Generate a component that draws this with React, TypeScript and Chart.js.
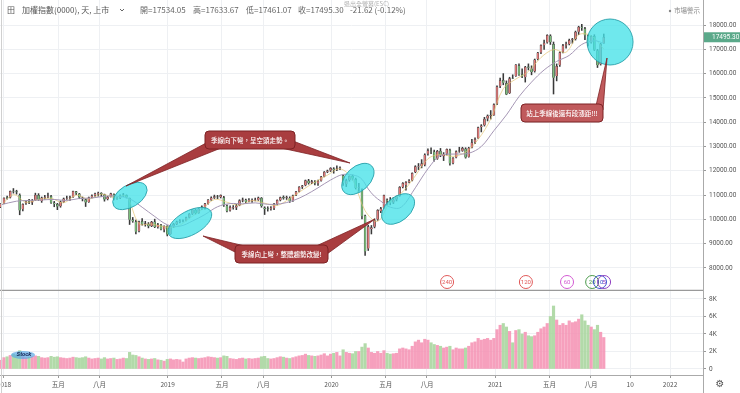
import React, { useEffect, useRef } from 'react';
import { Chart, registerables } from 'chart.js';

Chart.register(...registerables);

// Weekly bars; x value = weeks counted from 2018-01-01 (first bar is the week of 2017-12-25)
const FIRST_WEEK = -1;

const weekOpen = [
  10510, 10660, 10890, 10900, 11170, 11140, 11000, 10420, 10660, 10730, 10700, 10800, 10990, 10760,
  10900, 10940, 10950, 10680, 10620, 10540, 10730, 10860, 10870, 10920, 11140, 11050, 10890,
  10820, 10720, 10910, 10990, 11060, 11070, 11020, 10840, 10940, 11030, 10850, 10880, 10990,
  10990, 10870, 9980, 9900, 9520, 9920, 9790, 9810, 9730, 9900, 9690, 9770, 9580,
  9720, 9400, 9720, 9810, 9890, 9930, 9950, 10080, 10230, 10380, 10270, 10440, 10480,
  10650, 10810, 10900, 10930, 10920, 10900, 10560, 10370, 10480, 10490, 10580, 10780, 10810,
  10780, 10770, 10790, 10810, 10880, 10480, 10440, 10440, 10460, 10630, 10790, 10910, 10880,
  10880, 10770, 11000, 11150, 11340, 11400, 11590, 11510, 11550, 11480, 11590, 11770, 11960,
  12010, 12080, 12050, 12100, 11800, 11450, 11620, 11780, 11650, 11300, 11200, 10150, 8800,
  9600, 9700, 10000, 10350, 10470, 10800, 10780, 10700, 10820, 10960, 11330, 11420, 11550,
  11600, 11950, 12180, 12200, 12250, 12700, 12820, 12780, 12500, 12810, 12600, 12700, 12850,
  12320, 12550, 12800, 12830, 12900, 12580, 12960, 13180, 13350, 13800, 13870, 14150, 14250,
  14300, 14760, 15480, 15720, 15600, 15200, 15820, 15900, 16330, 15960, 15850, 16280, 16200,
  16100, 16600, 16870, 17170, 17280, 17550, 17200, 15900, 16350, 16900, 17160, 17220, 17380,
  17420, 17720, 17920, 17850, 17560, 17280, 17530, 16950, 16380, 17250,
];
const weekHigh = [
  10650, 10890, 10960, 11170, 11270, 11200, 11050, 10640, 10760, 10830, 10820, 11080, 11060, 10920,
  10990, 11080, 10990, 10740, 10660, 10760, 10880, 10960, 10960, 11170, 11160, 11070, 10920,
  10840, 10920, 11010, 11080, 11120, 11100, 11040, 10950, 11080, 11050, 10930, 11010, 11070,
  11010, 10880, 10080, 9970, 9930, 10030, 9920, 9870, 9920, 10010, 9840, 9800, 9740,
  9740, 9740, 9840, 9930, 9990, 9980, 10100, 10240, 10400, 10420, 10450, 10560, 10660,
  10820, 10930, 11000, 10990, 11010, 10950, 10600, 10560, 10570, 10620, 10810, 10880, 10840,
  10860, 10850, 10880, 10920, 10900, 10520, 10520, 10530, 10660, 10800, 10920, 10970, 10960,
  10930, 11000, 11150, 11350, 11400, 11620, 11650, 11610, 11600, 11620, 11770, 11970, 12030,
  12130, 12130, 12200, 12160, 11820, 11660, 11800, 11830, 11700, 11480, 11260, 10180, 9760,
  9750, 10020, 10400, 10500, 11000, 10850, 10900, 10900, 10960, 11350, 11520, 11560, 11640,
  11920, 12210, 12300, 12460, 12700, 12900, 12950, 12850, 12840, 12920, 12750, 12900, 12890,
  12540, 12820, 12970, 12970, 12950, 12970, 13300, 13360, 13800, 13900, 14200, 14300, 14480,
  14760, 15500, 15820, 16000, 15700, 15850, 15950, 16370, 16400, 16200, 16300, 16400, 16320,
  16600, 16880, 17180, 17380, 17600, 17600, 17300, 16400, 16900, 17200, 17300, 17420, 17450,
  17750, 17950, 18030, 17900, 17600, 17560, 17600, 17000, 17250, 17630,
];
const weekLow = [
  10480, 10650, 10830, 10880, 11080, 11040, 10190, 10350, 10620, 10650, 10610, 10780, 10780, 10700,
  10830, 10880, 10660, 10520, 10400, 10500, 10700, 10820, 10780, 10900, 11020, 10850, 10760,
  10530, 10700, 10880, 10950, 10960, 10940, 10750, 10800, 10920, 10800, 10820, 10850, 10930,
  10880, 9790, 9880, 9400, 9480, 9760, 9720, 9650, 9700, 9660, 9640, 9570, 9480,
  9320, 9380, 9660, 9780, 9850, 9900, 9940, 10060, 10200, 10220, 10250, 10400, 10420,
  10630, 10780, 10860, 10850, 10880, 10530, 10310, 10340, 10420, 10400, 10560, 10720, 10680,
  10720, 10700, 10760, 10780, 10500, 10200, 10340, 10380, 10400, 10600, 10760, 10830, 10820,
  10700, 10740, 10980, 11130, 11270, 11380, 11450, 11470, 11420, 11400, 11570, 11750, 11920,
  11970, 11900, 12000, 12050, 11400, 11350, 11570, 11620, 11250, 11150, 10020, 8520, 8720,
  9400, 9650, 9960, 10280, 10450, 10600, 10600, 10650, 10760, 10950, 11300, 11200, 11500,
  11580, 11920, 12050, 12120, 12200, 12640, 12700, 12400, 12470, 12580, 12420, 12650, 12230,
  12280, 12530, 12760, 12800, 12520, 12560, 12940, 13120, 13330, 13600, 13840, 14050, 14130,
  14280, 14720, 15420, 15540, 15130, 15180, 15790, 15880, 15920, 15830, 15650, 16150, 15950,
  16060, 16560, 16820, 17000, 17250, 17200, 15160, 15700, 16300, 16850, 17050, 17180, 17250,
  17380, 17600, 17780, 17400, 17130, 17250, 16950, 16250, 16350, 17240,
];
const weekClose = [
  10643, 10879, 10882, 11158, 11150, 11126, 10370, 10620, 10710, 10720, 10750, 11000, 10810, 10890,
  10920, 10960, 10690, 10630, 10530, 10720, 10850, 10880, 10900, 11150, 11080, 10900, 10840,
  10700, 10900, 10970, 11050, 11080, 11050, 10820, 10920, 11060, 10850, 10860, 10970, 11010,
  10920, 9990, 9920, 9490, 9900, 9800, 9830, 9720, 9890, 9690, 9780, 9590, 9727,
  9380, 9710, 9800, 9900, 9930, 9932, 10070, 10220, 10390, 10260, 10430, 10520, 10640,
  10800, 10890, 10940, 10910, 10990, 10580, 10350, 10500, 10500, 10560, 10770, 10800, 10730,
  10780, 10780, 10800, 10890, 10550, 10430, 10430, 10470, 10620, 10780, 10900, 10870, 10900,
  10760, 10980, 11130, 11330, 11380, 11600, 11500, 11560, 11490, 11580, 11750, 11950, 12000,
  12100, 12030, 12090, 12118, 11495, 11600, 11770, 11680, 11290, 11320, 10130, 8680, 9700,
  9660, 9950, 10370, 10450, 10990, 10770, 10690, 10810, 10940, 11320, 11480, 11530, 11580,
  11900, 12170, 12190, 12300, 12660, 12830, 12800, 12460, 12800, 12640, 12680, 12880, 12300,
  12520, 12790, 12820, 12920, 12550, 12930, 13160, 13300, 13780, 13850, 14130, 14260, 14280,
  14730, 15460, 15710, 15620, 15140, 15800, 15800, 16360, 15950, 15880, 16270, 16250, 16070,
  16570, 16850, 17160, 17260, 17570, 17290, 15830, 16300, 16870, 17150, 17210, 17370, 17400,
  17710, 17910, 17890, 17570, 17250, 17520, 16980, 16340, 17210, 17495.3,
];
// volume, 億
const weekVolume = [
  1000, 1300, 1400, 1550, 1700, 1600, 2100, 1400, 1300, 1350, 1400, 1500, 1450, 1300,
  1250, 1300, 1450, 1350, 1400, 1300, 1250, 1200, 1250, 1350, 1300, 1250, 1300,
  1400, 1250, 1150, 1200, 1250, 1150, 1300, 1150, 1200, 1250, 1100, 1150, 1250,
  1200, 1900, 1600, 1550, 1400, 1250, 1150, 1100, 1150, 1200, 1050, 1000, 900,
  1100, 1150, 1050, 1100, 1050, 800, 1150, 1250, 1300, 1250, 1200, 1250, 1300,
  1400, 1350, 1300, 1250, 1300, 1500, 1450, 1200, 1150, 1100, 1200, 1250, 1150,
  1200, 1150, 1200, 1250, 1400, 1450, 1200, 1150, 1200, 1300, 1400, 1350, 1250,
  1200, 1300, 1400, 1500, 1550, 1700, 1550, 1500, 1450, 1500, 1600, 1750, 1500,
  1700, 1800, 1900, 1500, 2200, 1900, 1800, 1750, 2000, 2000, 2500, 2900, 2400,
  1900, 1800, 2000, 1800, 2100, 1800, 1700, 1750, 1800, 2300, 2400, 2300, 2200,
  2600, 3100, 3300, 3000, 3400, 3300, 3000, 2800, 2700, 2600, 2400, 2500, 2600,
  2200, 2400, 2300, 2300, 2400, 2600, 3000, 3100, 3500, 3300, 3400, 3500, 3300,
  3500, 4500, 5000, 5200, 4800, 4300, 3000, 4400, 4500, 4000, 4200, 3800, 3700,
  3800, 4200, 4600, 4800, 5200, 6000, 7200, 5600, 5000, 5200, 5000, 5500, 5300,
  5400, 5700, 6200, 5500, 5000, 4800, 4500, 5000, 4200, 3600,
];

// 60-day moving average (季線), read at sparse weeks
const ma60Weeks = [-1, 4, 8, 12, 16, 20, 24, 28, 32, 36, 40, 44, 48, 52, 56, 60, 64, 68, 72, 76, 80, 84, 88, 92, 96, 100, 104, 108, 112, 114, 116, 118, 120, 122, 124, 126, 128, 130, 132, 134, 136, 138, 140, 144, 148, 152, 156, 160, 164, 168, 172, 176, 180, 184, 188, 191];
const ma60Values = [10600, 10750, 10780, 10800, 10820, 10780, 10860, 10880, 10950, 10960, 10850, 10500, 10120, 9780, 9720, 9930, 10200, 10520, 10650, 10640, 10680, 10620, 10640, 10770, 11000, 11300, 11620, 11850, 11800, 11650, 11250, 10950, 10750, 10560, 10470, 10470, 10700, 11100, 11500, 11900, 12250, 12550, 12670, 12690, 12720, 13000, 13650, 14300, 15050, 15650, 16150, 16500, 16750, 17200, 17350, 17250];

// 20-day moving average (月線), read at sparse weeks
const ma20Weeks = [-1, 3, 7, 11, 15, 19, 23, 27, 31, 35, 39, 43, 47, 51, 55, 59, 63, 67, 71, 75, 79, 83, 87, 91, 95, 99, 103, 107, 111, 115, 119, 123, 127, 131, 135, 139, 143, 147, 151, 155, 159, 163, 167, 171, 175, 179, 183, 187, 191];
const ma20Values = [10550, 11017, 10707, 10820, 10865, 10682, 11002, 10835, 11037, 10912, 10940, 9825, 9810, 9697, 9697, 10038, 10400, 10817, 10707, 10582, 10772, 10667, 10575, 10857, 11205, 11537, 11820, 12084, 11636, 10355, 9920, 10725, 11137, 11795, 12495, 12675, 12595, 12770, 13292, 14130, 15380, 15775, 16087, 16662, 16987, 16882, 17597, 17557, 17006];

// time axis
const timeTickWeeks = [0, 17.3, 30.4, 52.1, 69.4, 82.6, 104.3, 121.6, 134.7, 156.4, 173.7, 186.9, 199.4, 212.1];
const timeTickLabels = ['2018', '五月', '八月', '2019', '五月', '八月', '2020', '五月', '八月', '2021', '五月', '八月', '10', '2022'];
const priceTicks = [8000, 9000, 10000, 11000, 12000, 13000, 14000, 15000, 16000, 17000, 18000];
const volumeTicks = [0, 2000, 4000, 6000, 8000];

// MA period markers
const maMarkerLabels = ['240', '120', '60', '20', '10', '5'];
const maMarkerWeeks = [141.1, 166.2, 179.3, 187.3, 189.8, 191.1];
const maMarkerColors = ['#e05858', '#e05858', '#d25ad2', '#4a9a4a', '#3a4fd0', '#9040c0'];

// header (last daily bar)
const symbolTitle = '加權指數(0000), 天, 上市';
const lastOpen = 17534.05;
const lastHigh = 17633.67;
const lastLow = 17461.07;
const lastClose = 17495.3;
const lastChange = -21.62;
const lastChangePct = -0.12;

const X_MIN = -1.27;
const X_MAX = 222.6;
const AXIS_W = 37;

const CJK = '"Noto Sans CJK TC", "Noto Sans", sans-serif';
const NUM = 'Roboto, "Noto Sans", sans-serif';

function isUp(i: number) {
  return weekClose[i] >= weekOpen[i];
}

function rr(ctx: CanvasRenderingContext2D, x: number, y: number, w: number, h: number, r: number) {
  ctx.beginPath();
  ctx.moveTo(x + r, y);
  ctx.lineTo(x + w - r, y);
  ctx.quadraticCurveTo(x + w, y, x + w, y + r);
  ctx.lineTo(x + w, y + h - r);
  ctx.quadraticCurveTo(x + w, y + h, x + w - r, y + h);
  ctx.lineTo(x + r, y + h);
  ctx.quadraticCurveTo(x, y + h, x, y + h - r);
  ctx.lineTo(x, y + r);
  ctx.quadraticCurveTo(x, y, x + r, y);
  ctx.closePath();
}

const ellipses = [
  { w: 40.1, p: 10963, rx: 19, ry: 11, rot: -0.55 },
  { w: 59.2, p: 9852, rx: 24, ry: 12, rot: -0.5 },
  { w: 112.7, p: 11663, rx: 19, ry: 12, rot: -0.75 },
  { w: 125.5, p: 10428, rx: 19, ry: 12, rot: -0.7 },
  { w: 193.0, p: 17300, rx: 23, ry: 23, rot: 0 },
];

const callouts = [
  {
    box: [205, 131, 90, 18], text: '季線向下彎，呈空頭走勢。', fill: '#a93d3f',
    wedges: [[[208, 142], [221, 148], [126, 186]], [[281, 148], [293, 141], [350, 163]]],
  },
  {
    box: [235, 245, 93, 18], text: '季線向上彎，整體趨勢改變!', fill: '#a93d3f',
    wedges: [[[237, 253], [249, 247], [203, 236]], [[314, 247], [327, 254], [375, 219]]],
  },
  {
    box: [521, 104, 82, 18], text: '站上季線後還有段漲距!!!', fill: '#c05a5c',
    wedges: [[[595, 110], [603, 110], [607, 58]]],
  },
];

const priceOverlay = {
  id: 'priceOverlay',
  afterDatasetsDraw(chart: any) {
    const ctx: CanvasRenderingContext2D = chart.ctx;
    const xs = chart.scales.x;
    const ys = chart.scales.y;
    ctx.save();
    ellipses.forEach((e) => {
      const cx = xs.getPixelForValue(e.w);
      const cy = ys.getPixelForValue(e.p);
      ctx.beginPath();
      ctx.ellipse(cx, cy, e.rx, e.ry, e.rot, 0, Math.PI * 2);
      ctx.fillStyle = 'rgba(70, 226, 232, 0.78)';
      ctx.fill();
      ctx.lineWidth = 1;
      ctx.strokeStyle = 'rgba(40, 160, 170, 0.9)';
      ctx.stroke();
    });
    callouts.forEach((c) => {
      c.wedges.forEach((wg) => {
        ctx.beginPath();
        ctx.moveTo(wg[0][0], wg[0][1]);
        ctx.lineTo(wg[2][0], wg[2][1]);
        ctx.lineTo(wg[1][0], wg[1][1]);
        ctx.closePath();
        ctx.fillStyle = c.fill;
        ctx.fill();
        ctx.strokeStyle = '#7d2224';
        ctx.lineWidth = 0.8;
        ctx.stroke();
      });
      const [bx, by, bw, bh] = c.box;
      rr(ctx, bx, by, bw, bh, 4);
      ctx.fillStyle = c.fill;
      ctx.fill();
      ctx.strokeStyle = '#7d2224';
      ctx.lineWidth = 1;
      ctx.stroke();
      ctx.fillStyle = '#ffffff';
      ctx.font = `500 6.5px ${CJK}`;
      ctx.textAlign = 'center';
      ctx.textBaseline = 'middle';
      ctx.fillText(c.text, bx + bw / 2, by + bh / 2 + 0.5);
    });
    maMarkerLabels.forEach((lab, i) => {
      const cx = xs.getPixelForValue(maMarkerWeeks[i]);
      const cy = 282;
      ctx.beginPath();
      ctx.arc(cx, cy, 6.5, 0, Math.PI * 2);
      ctx.strokeStyle = maMarkerColors[i];
      ctx.lineWidth = 1;
      ctx.stroke();
      ctx.fillStyle = maMarkerColors[i];
      ctx.font = `6px ${NUM}`;
      ctx.textAlign = 'center';
      ctx.textBaseline = 'middle';
      ctx.fillText(lab, cx, cy + 0.5);
    });
    ctx.restore();
  },
  afterDraw(chart: any) {
    const ctx: CanvasRenderingContext2D = chart.ctx;
    const ys = chart.scales.y;
    const area = chart.chartArea;
    ctx.save();
    ctx.textBaseline = 'middle';
    ctx.textAlign = 'left';
    ctx.fillStyle = '#555';
    ctx.font = `8px ${CJK}`;
    ctx.fillText('田', 7, 10);
    ctx.fillText(symbolTitle, 22, 10);
    ctx.strokeStyle = '#555';
    ctx.lineWidth = 0.9;
    ctx.beginPath();
    ctx.moveTo(120, 9);
    ctx.lineTo(122, 11);
    ctx.lineTo(124, 9);
    ctx.stroke();
    const seg = [
      ['開=' + lastOpen.toFixed(2), 140],
      ['高=' + lastHigh.toFixed(2), 193],
      ['低=' + lastLow.toFixed(2), 246],
      ['收=' + lastClose.toFixed(2), 298],
      [lastChange.toFixed(2) + ' (' + lastChangePct.toFixed(2) + '%)', 350],
    ];
    ctx.fillStyle = '#666';
    seg.forEach(([t, x]) => ctx.fillText(String(t), Number(x), 10));
    ctx.fillStyle = 'rgba(150,150,150,0.75)';
    ctx.font = `6px ${CJK}`;
    ctx.fillText('退出全螢幕(ESC)', 344, 4);
    ctx.fillStyle = '#888';
    ctx.beginPath();
    ctx.arc(670, 11, 1.2, 0, Math.PI * 2);
    ctx.fill();
    ctx.font = `6.5px ${CJK}`;
    ctx.fillText('市場警示', 674, 11);
    const py = ys.getPixelForValue(lastClose);
    ctx.fillStyle = '#5ba98a';
    ctx.fillRect(area.right + 1, py - 5, AXIS_W - 1, 10);
    ctx.fillStyle = '#fff';
    ctx.font = `6.5px ${NUM}`;
    ctx.textAlign = 'left';
    ctx.fillText(lastClose.toFixed(2), area.right + 9, py + 0.5);
    ctx.strokeStyle = '#9a9a9a';
    ctx.lineWidth = 1.2;
    ctx.beginPath();
    ctx.moveTo(0, chart.height - 0.6);
    ctx.lineTo(area.right, chart.height - 0.6);
    ctx.stroke();
    ctx.strokeStyle = '#d0d0d0';
    ctx.lineWidth = 1;
    ctx.beginPath();
    ctx.moveTo(1.5, 0);
    ctx.lineTo(1.5, chart.height);
    ctx.stroke();
    ctx.restore();
  },
};

const volOverlay = {
  id: 'volOverlay',
  afterDraw(chart: any) {
    const ctx: CanvasRenderingContext2D = chart.ctx;
    const area = chart.chartArea;
    ctx.save();
    ctx.strokeStyle = '#aaa';
    ctx.lineWidth = 1;
    ctx.beginPath();
    ctx.moveTo(area.right + 0.5, area.bottom);
    ctx.lineTo(area.right + 0.5, chart.height);
    ctx.stroke();
    ctx.strokeStyle = '#d0d0d0';
    ctx.beginPath();
    ctx.moveTo(1.5, 0);
    ctx.lineTo(1.5, chart.height);
    ctx.stroke();
    ctx.fillStyle = '#555';
    ctx.font = '10px "DejaVu Sans"';
    ctx.textAlign = 'center';
    ctx.textBaseline = 'middle';
    ctx.fillText('⚙', 720, area.bottom + 9);
    ctx.beginPath();
    ctx.ellipse(23, 64, 12, 4, 0, 0, Math.PI * 2);
    ctx.fillStyle = 'rgba(90,170,230,0.7)';
    ctx.fill();
    ctx.fillStyle = '#1b2a5a';
    ctx.font = `italic bold 6px ${NUM}`;
    ctx.fillText('Stock', 24, 63);
    ctx.restore();
  },
};

const gridColor = '#eef0f3';

function zeroPadH(s: any) {
  s.paddingLeft = 0;
  s.paddingRight = 0;
}
function zeroPadV(s: any) {
  s.paddingTop = 0;
  s.paddingBottom = 0;
}

export default function App() {
  const priceRef = useRef<HTMLCanvasElement>(null);
  const volRef = useRef<HTMLCanvasElement>(null);

  useEffect(() => {
    document.body.style.margin = '0';
    const weeks = weekClose.map((_, i) => FIRST_WEEK + i);
    const wickData = weeks.map((w, i) => ({ x: w, y: [weekLow[i], weekHigh[i]] }));
    const bodyData = weeks.map((w, i) => {
      const lo = Math.min(weekOpen[i], weekClose[i]);
      const hi = Math.max(weekOpen[i], weekClose[i]);
      return { x: w, y: hi - lo < 16 ? [lo - 8, hi + 8] : [lo, hi] };
    });
    const bodyColors = weeks.map((_, i) => (isUp(i) ? '#e07a7a' : '#7cbf7c'));
    const maData = ma60Weeks.map((w, i) => ({ x: w, y: ma60Values[i] }));
    const ma20Data = ma20Weeks.map((w, i) => ({ x: w, y: ma20Values[i] }));

    const xAxisCommon = {
      type: 'linear' as const,
      min: X_MIN,
      max: X_MAX,
      offset: false,
      afterBuildTicks: (s: any) => {
        s.ticks = timeTickWeeks.map((v) => ({ value: v }));
      },
    };

    const pc = new Chart(priceRef.current!, {
      type: 'bar',
      data: {
        datasets: [
          {
            type: 'line',
            data: maData as any,
            borderColor: '#a596b4',
            borderWidth: 1,
            pointRadius: 0,
            tension: 0.35,
            order: 0,
          } as any,
          {
            type: 'line',
            data: ma20Data as any,
            borderColor: 'rgba(226, 196, 110, 0.75)',
            borderWidth: 0.9,
            pointRadius: 0,
            tension: 0.35,
            order: 0.5,
          } as any,
          {
            data: bodyData as any,
            backgroundColor: bodyColors,
            borderColor: '#3a3a3a',
            borderWidth: 0.5,
            barThickness: 2,
            grouped: false,
            order: 1,
          },
          {
            data: wickData as any,
            backgroundColor: '#3a3a3a',
            barThickness: 0.9,
            grouped: false,
            order: 2,
          },
        ],
      },
      options: {
        responsive: false,
        devicePixelRatio: 1,
        animation: false,
        events: [],
        layout: { padding: 0 },
        plugins: { legend: { display: false }, tooltip: { enabled: false } },
        scales: {
          x: {
            ...xAxisCommon,
            ticks: { display: false },
            grid: { color: gridColor, drawTicks: false, offset: false },
            border: { display: false },
            afterFit: (s: any) => { s.height = 0; zeroPadH(s); },
          },
          y: {
            type: 'linear',
            position: 'right',
            min: 7053,
            max: 19029,
            afterBuildTicks: (s: any) => { s.ticks = priceTicks.map((v) => ({ value: v })); },
            ticks: {
              callback: (v: any) => Number(v).toFixed(2),
              font: { size: 6.5, family: NUM },
              color: '#555',
              padding: 3,
            },
            grid: { color: gridColor, tickColor: '#999', tickLength: 3 },
            border: { color: '#aaa' },
            afterFit: (s: any) => { s.width = AXIS_W; zeroPadV(s); },
          },
        },
      } as any,
      plugins: [priceOverlay],
    });

    const volData = weeks.map((w, i) => ({ x: w, y: weekVolume[i] }));
    const volColors = weeks.map((_, i) => (isUp(i) ? 'rgba(244,143,177,0.85)' : 'rgba(170,214,160,0.9)'));

    const vc = new Chart(volRef.current!, {
      type: 'bar',
      data: {
        datasets: [
          {
            data: volData as any,
            backgroundColor: volColors,
            barThickness: 2.5,
            grouped: false,
          },
        ],
      },
      options: {
        responsive: false,
        devicePixelRatio: 1,
        animation: false,
        events: [],
        layout: { padding: 0 },
        plugins: { legend: { display: false }, tooltip: { enabled: false } },
        scales: {
          x: {
            ...xAxisCommon,
            ticks: {
              autoSkip: false,
              maxRotation: 0,
              callback: (_v: any, idx: number) => timeTickLabels[idx],
              font: { size: 6.5, family: CJK },
              color: '#555',
              padding: 3,
            },
            grid: { color: gridColor, tickColor: '#999', tickLength: 3, offset: false },
            border: { color: '#aaa' },
            afterFit: (s: any) => { s.height = 18; zeroPadH(s); },
          },
          y: {
            type: 'linear',
            position: 'right',
            min: -686,
            max: 8914,
            afterBuildTicks: (s: any) => { s.ticks = volumeTicks.map((v) => ({ value: v })); },
            ticks: {
              callback: (v: any) => (Number(v) === 0 ? '0' : Number(v) / 1000 + 'K'),
              font: { size: 6.5, family: NUM },
              color: '#555',
              padding: 3,
            },
            grid: { color: gridColor, tickColor: '#999', tickLength: 3 },
            border: { color: '#aaa' },
            afterFit: (s: any) => { s.width = AXIS_W; zeroPadV(s); },
          },
        },
      } as any,
      plugins: [volOverlay],
    });

    return () => {
      pc.destroy();
      vc.destroy();
    };
  }, []);

  return (
    <div style={{ position: 'fixed', left: 0, top: 0, width: 740, height: 393, background: '#fff', overflow: 'hidden' }}>
      <canvas ref={priceRef} width={740} height={291} style={{ position: 'absolute', left: 0, top: 0, width: 740, height: 291 }} />
      <canvas ref={volRef} width={740} height={102} style={{ position: 'absolute', left: 0, top: 291, width: 740, height: 102 }} />
    </div>
  );
}
